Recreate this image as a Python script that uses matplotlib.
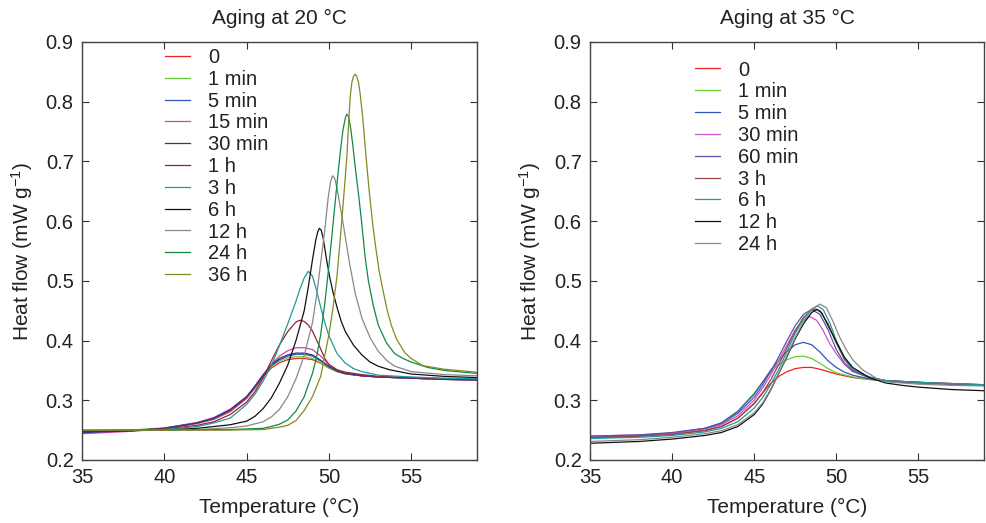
import matplotlib
matplotlib.use('Agg')
import matplotlib.pyplot as plt

plt.rcParams['font.family'] = ['Liberation Sans', 'DejaVu Sans']
plt.rcParams['mathtext.default'] = 'regular'
plt.rcParams['text.color'] = '#222222'
plt.rcParams['axes.labelcolor'] = '#222222'
plt.rcParams['xtick.color'] = '#333333'
plt.rcParams['ytick.color'] = '#333333'
plt.rcParams['xtick.labelcolor'] = '#222222'
plt.rcParams['ytick.labelcolor'] = '#222222'

# ---- Aging at 20 °C : (temperature, heat flow) points ----
a20_0 = [(35, .246), (38, .249), (40, .253), (42, .261), (43, .268), (44, .281), (45, .303),
         (45.5, .320), (46, .339), (46.5, .354), (47, .363), (47.5, .368), (48, .370),
         (48.5, .370), (49, .368), (49.5, .362), (50, .354), (50.5, .348), (51, .344),
         (52, .341), (53, .339), (55, .337), (57, .335), (59, .334)]
a20_1min = [(35, .247), (38, .250), (40, .254), (42, .262), (43, .269), (44, .283), (45, .305),
            (45.5, .322), (46, .341), (46.5, .357), (47, .366), (47.5, .371), (48, .373),
            (48.5, .373), (49, .370), (49.5, .363), (50, .354), (50.5, .348), (51, .344),
            (52, .341), (53, .339), (55, .337), (57, .335), (59, .334)]
a20_5min = [(35, .246), (38, .249), (40, .253), (42, .262), (43, .269), (44, .283), (45, .305),
            (45.5, .322), (46, .341), (46.5, .358), (47, .368), (47.5, .374), (48, .377),
            (48.5, .377), (49, .374), (49.5, .366), (50, .356), (50.5, .349), (51, .345),
            (52, .341), (53, .339), (55, .337), (57, .335), (59, .334)]
a20_15min = [(35, .244), (38, .248), (40, .253), (42, .263), (43, .271), (44, .285), (45, .306),
             (45.5, .324), (46, .343), (46.5, .360), (47, .374), (47.5, .383), (48, .388),
             (48.5, .388), (49, .385), (49.5, .374), (50, .360), (50.5, .350), (51, .345),
             (52, .341), (53, .339), (55, .337), (57, .335), (59, .334)]
a20_30min = [(35, .246), (38, .249), (40, .253), (42, .262), (43, .270), (44, .284), (45, .306),
             (45.5, .323), (46, .342), (46.5, .359), (47, .370), (47.5, .376), (48, .379),
             (48.5, .379), (49, .376), (49.5, .367), (50, .357), (50.5, .349), (51, .345),
             (52, .341), (53, .339), (55, .337), (57, .335), (59, .334)]
a20_1h = [(35, .248), (40, .252), (42, .258), (43, .264), (44, .276), (45, .297), (45.5, .314),
          (46, .337), (46.5, .366), (47, .393), (47.5, .415), (48, .431), (48.25, .434),
          (48.5, .432), (48.75, .426), (49, .416), (49.25, .401), (49.5, .386), (49.75, .370),
          (50, .360), (50.5, .351), (51, .347), (52, .343), (53, .340), (55, .338), (57, .336),
          (59, .335)]
a20_3h = [(35, .249), (40, .251), (42, .256), (43, .262), (44, .270), (45, .293), (45.5, .310),
          (46, .332), (46.5, .358), (47, .392), (47.5, .428), (48, .466), (48.25, .487),
          (48.5, .505), (48.75, .516), (49, .508), (49.25, .484), (49.5, .456), (49.75, .430),
          (50, .408), (50.5, .378), (51, .362), (51.5, .353), (52, .348), (53, .342), (55, .339),
          (57, .337), (59, .336)]
a20_6h = [(35, .248), (40, .250), (42, .253), (43, .256), (44, .259), (45, .265), (45.5, .273),
          (46, .286), (46.5, .304), (47, .329), (47.5, .359), (48, .400), (48.5, .450),
          (48.75, .490), (49, .535), (49.2, .568), (49.32, .582), (49.42, .588), (49.53, .585),
          (49.65, .572), (49.85, .537), (50.05, .506), (50.25, .481), (50.5, .455), (50.75, .432),
          (51, .415), (51.5, .392), (52, .376), (52.5, .364), (53, .357), (53.7, .351),
          (55, .344), (57, .340), (59, .338)]
a20_12h = [(35, .249), (40, .250), (42, .251), (44, .254), (45, .257), (46, .264), (46.5, .272),
           (47, .285), (47.5, .306), (48, .336), (48.5, .375), (49, .430), (49.25, .475),
           (49.5, .530), (49.75, .585), (49.95, .638), (50.1, .666), (50.22, .676), (50.35, .672),
           (50.5, .654), (50.7, .622), (50.9, .590), (51.25, .530), (51.6, .479), (52, .438),
           (52.5, .405), (53, .382), (53.5, .367), (54, .357), (55, .348), (57, .343), (59, .341)]
a20_24h = [(35, .250), (40, .250), (44, .251), (46, .253), (46.5, .256), (47, .260), (47.5, .267),
           (48, .282), (48.5, .306), (49, .345), (49.25, .372), (49.5, .410), (49.75, .462),
           (50, .525), (50.25, .595), (50.5, .665), (50.7, .718), (50.85, .752), (51, .773),
           (51.08, .779), (51.18, .776), (51.3, .760), (51.45, .728), (51.6, .690), (51.8, .645),
           (52, .595), (52.2, .540), (52.4, .500), (52.7, .458), (53, .426), (53.5, .396),
           (54, .378), (54.5, .370), (55, .364), (56, .355), (57, .350), (59, .345)]
a20_36h = [(35, .250), (40, .250), (44, .250), (46, .251), (47, .255), (47.5, .258), (48, .266),
           (48.5, .283), (49, .306), (49.5, .340), (50, .410), (50.25, .455), (50.5, .510),
           (50.75, .590), (51, .675), (51.1, .712), (51.2, .765), (51.3, .810), (51.4, .833),
           (51.5, .843), (51.6, .846), (51.7, .842), (51.8, .832), (51.9, .813), (52.05, .775),
           (52.25, .710), (52.45, .650), (52.66, .595), (52.85, .555), (53.05, .517),
           (53.3, .482), (53.55, .450), (53.8, .425), (54.1, .403), (54.6, .380), (55, .370),
           (55.7, .358), (57, .352), (59, .347)]

labels20 = ['0', '1 min', '5 min', '15 min', '30 min', '1 h', '3 h', '6 h', '12 h', '24 h', '36 h']
curves20 = [a20_0, a20_1min, a20_5min, a20_15min, a20_30min, a20_1h, a20_3h, a20_6h,
            a20_12h, a20_24h, a20_36h]
colors20 = ['#ee2222', '#66cc33', '#3355bb', '#cc44aa', '#333388', '#992233', '#229999',
            '#111111', '#888888', '#118844', '#888822']

# ---- Aging at 35 °C ----
a35_0 = [(35, .237), (38, .240), (40, .243), (42, .250), (43, .256), (44, .270), (45, .295),
         (45.5, .312), (46, .328), (46.5, .340), (47, .348), (47.5, .353), (48, .355),
         (48.5, .355), (49, .352), (49.5, .348), (50, .344), (51, .338), (52, .335),
         (53, .332), (55, .330), (57, .328), (59, .326)]
a35_1min = [(35, .238), (38, .241), (40, .245), (42, .253), (43, .262), (44, .282), (45, .312),
            (45.5, .330), (46, .347), (46.5, .360), (47, .368), (47.5, .373), (48, .374),
            (48.5, .370), (49, .362), (49.5, .353), (50, .346), (51, .339), (52, .335),
            (53, .332), (55, .329), (57, .327), (59, .325)]
a35_5min = [(35, .238), (38, .241), (40, .245), (42, .253), (43, .262), (44, .281), (45, .310),
            (45.5, .330), (46, .350), (46.5, .367), (47, .382), (47.5, .393), (48, .397),
            (48.5, .393), (49, .381), (49.5, .366), (50, .355), (50.5, .347), (51, .342),
            (52, .336), (53, .332), (55, .329), (57, .327), (59, .325)]
a35_30min = [(35, .240), (38, .242), (40, .245), (42, .252), (43, .259), (44, .274), (45, .300),
             (45.5, .320), (46, .342), (46.5, .367), (47, .393), (47.5, .418), (48, .435),
             (48.4, .440), (48.8, .434), (49.2, .417), (49.6, .395), (50, .378), (50.5, .360),
             (51, .348), (52, .338), (53, .333), (55, .330), (57, .327), (59, .325)]
a35_60min = [(35, .240), (38, .242), (40, .246), (42, .253), (43, .261), (44, .278), (45, .305),
             (45.5, .325), (46, .348), (46.5, .373), (47, .400), (47.5, .425), (48, .444),
             (48.5, .452), (49, .444), (49.5, .418), (50, .385), (50.5, .362), (51, .349),
             (52, .338), (53, .333), (55, .330), (57, .327), (59, .325)]
a35_3h = [(35, .237), (38, .240), (40, .243), (42, .249), (43, .256), (44, .270), (45, .294),
          (45.5, .312), (46, .334), (46.5, .360), (47, .388), (47.5, .416), (48, .439),
          (48.5, .451), (48.75, .453), (49, .450), (49.5, .428), (50, .396), (50.5, .368),
          (51, .351), (52, .339), (53, .333), (55, .330), (57, .328), (59, .326)]
a35_6h = [(35, .236), (38, .238), (40, .241), (42, .247), (43, .253), (44, .264), (45, .287),
          (45.5, .304), (46, .326), (46.5, .352), (47, .382), (47.5, .412), (48, .437),
          (48.5, .453), (48.85, .458), (49.2, .452), (49.6, .430), (50, .400), (50.5, .370),
          (51, .352), (52, .339), (53, .333), (55, .330), (57, .328), (59, .326)]
a35_12h = [(35, .228), (38, .231), (40, .235), (42, .241), (43, .246), (44, .256), (45, .276),
           (45.5, .293), (46, .317), (46.5, .345), (47, .373), (47.5, .403), (48, .428),
           (48.5, .447), (48.8, .452), (49.1, .447), (49.5, .425), (50, .398), (50.5, .372),
           (51, .355), (52, .338), (53, .329), (54, .325), (55, .322), (57, .318), (59, .316)]
a35_24h = [(35, .231), (38, .234), (40, .238), (42, .244), (43, .249), (44, .259), (45, .279),
           (45.5, .295), (46, .318), (46.5, .345), (47, .375), (47.5, .405), (48, .432),
           (48.5, .452), (49, .461), (49.4, .455), (49.8, .432), (50.2, .406), (50.6, .385),
           (51, .368), (51.6, .351), (52.5, .336), (53, .331), (55, .327), (57, .325), (59, .324)]

labels35 = ['0', '1 min', '5 min', '30 min', '60 min', '3 h', '6 h', '12 h', '24 h']
curves35 = [a35_0, a35_1min, a35_5min, a35_30min, a35_60min, a35_3h, a35_6h, a35_12h, a35_24h]
colors35 = ['#ee2222', '#66cc33', '#3355bb', '#cc55cc', '#5555aa', '#994444', '#229999',
            '#111111', '#888888']


def panel(ax, curves, labels, colors, title, anchor):
    for pts, lab, col in zip(curves, labels, colors):
        t = [p[0] for p in pts]
        v = [p[1] for p in pts]
        ax.plot(t, v, color=col, lw=0.9, label=lab)
    ax.set_xlim(35, 59)
    ax.set_ylim(0.2, 0.9)
    ax.set_xticks([35, 40, 45, 50, 55])
    ax.set_yticks([0.2, 0.3, 0.4, 0.5, 0.6, 0.7, 0.8, 0.9])
    ax.tick_params(direction='in', top=True, right=True, labelsize=14.5, length=5, pad=6)
    ax.set_xlabel('Temperature (°C)', fontsize=15, labelpad=8)
    ax.set_ylabel('Heat flow (mW g$^{-1}$)', fontsize=15, labelpad=8)
    ax.set_title(title, fontsize=15, pad=13)
    for s in ax.spines.values():
        s.set_linewidth(1.0)
        s.set_color('#444444')
    ax.legend(loc='upper left', bbox_to_anchor=anchor, frameon=False, fontsize=14.5,
              handlelength=1.25, handletextpad=0.9, labelspacing=0.14, borderaxespad=0)


fig = plt.figure(figsize=(9.86, 5.23), dpi=100)
ax1 = fig.add_axes([0.0832, 0.1205, 0.4006, 0.7992])
ax2 = fig.add_axes([0.5984, 0.1205, 0.3996, 0.7992])
panel(ax1, curves20, labels20, colors20, 'Aging at 20 °C', (0.19, 1.005))
panel(ax2, curves35, labels35, colors35, 'Aging at 35 °C', (0.245, 0.975))
fig.savefig('out.png', dpi=100)
